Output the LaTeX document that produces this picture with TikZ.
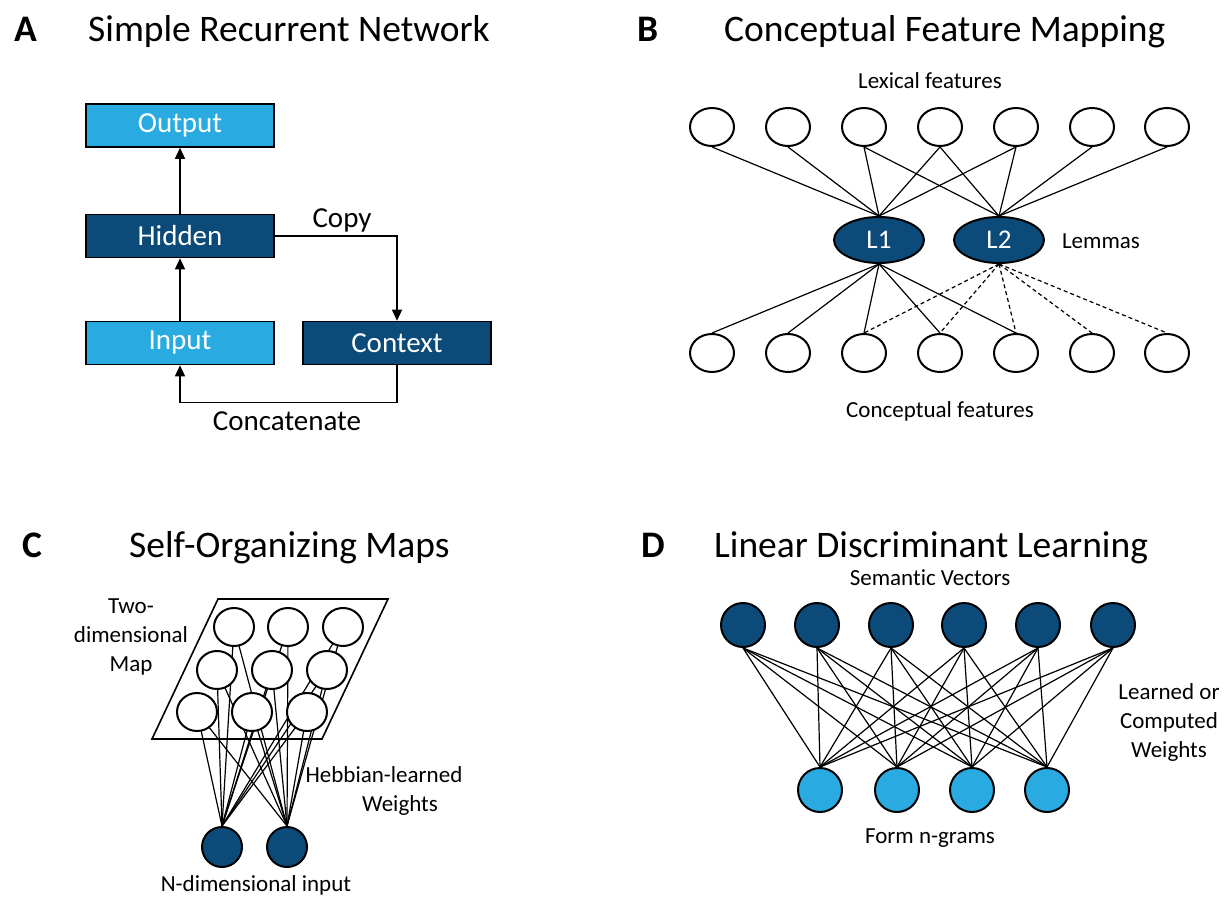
\documentclass[tikz,border=0pt]{standalone}
\usepackage{fontspec}
\setmainfont{Carlito}[Ligatures={NoCommon}]
\usetikzlibrary{shapes.geometric,arrows.meta}
\definecolor{lightblue}{RGB}{41,171,226}
\definecolor{darkblue}{RGB}{12,74,122}
\pgfdeclarelayer{bg}
\pgfsetlayers{bg,main}
\begin{document}
\begin{tikzpicture}[x=1pt,y=-1pt,
  ttl/.style={font=\fontsize{37.5}{40}\selectfont, anchor=base west, inner sep=0pt},
  letter/.style={font=\bfseries\fontsize{37.5}{40}\selectfont, anchor=base west, inner sep=0pt},
  lbl/.style={font=\fontsize{23}{29}\selectfont, inner sep=0pt, align=center},
  albl/.style={font=\fontsize{29}{32}\selectfont, inner sep=0pt, anchor=base},
  box/.style={draw=black, line width=1.6pt, minimum width=188pt, minimum height=43pt, inner sep=0pt, text=white, font=\fontsize{29}{32}\selectfont},
  arr/.style={line width=1.3pt, -{Triangle[length=11pt,width=10pt]}},
  wnode/.style={ellipse, draw, line width=2pt, fill=white, minimum width=44pt, minimum height=38pt, inner sep=0pt},
  lemma/.style={ellipse, draw, line width=2pt, fill=darkblue, minimum width=90pt, minimum height=46pt, inner sep=0pt, text=white, font=\fontsize{27}{30}\selectfont},
  conn/.style={line width=1.2pt},
  dconn/.style={line width=1.2pt, dash pattern=on 4pt off 3pt},
  mnode/.style={ellipse, draw, line width=2pt, fill=white, minimum width=40pt, minimum height=38pt, inner sep=0pt},
  inode/.style={circle, draw, line width=2pt, fill=darkblue, minimum size=40pt, inner sep=0pt},
  dnode/.style={circle, draw, line width=2pt, fill=darkblue, minimum size=44pt, inner sep=0pt},
  lnode/.style={circle, draw, line width=2pt, fill=lightblue, minimum size=44pt, inner sep=0pt},
]
\useasboundingbox (0,0) rectangle (1225,901);

% ---------- titles ----------
\node[letter] (tA) at (14,42) {A};
\node[ttl] (tAt) at (88,42) {Simple Recurrent Network};
\node[letter] (tB) at (637,42) {B};
\node[ttl] (tBt) at (724,42) {Conceptual Feature Mapping};
\node[letter] (tC) at (22,557) {C};
\node[ttl] (tCt) at (129,557) {Self-Organizing Maps};
\node[letter] (tD) at (641,557) {D};
\node[ttl] (tDt) at (714,557) {Linear Discriminant Learning};

% ---------- Panel A ----------
\node[box, fill=lightblue] (out) at (180,125.5) {Output};
\node[box, fill=darkblue] (hid) at (180,236) {Hidden};
\node[box, fill=lightblue] (inp) at (180,343) {Input};
\node[box, fill=darkblue] (ctx) at (397,343) {Context};
\draw[arr] (hid) -- (out);
\draw[arr] (inp) -- (hid);
\draw[arr] (hid.east) -| (ctx.north);
\draw[arr] (ctx.south) -- ++(0,37) -| (inp.south);
\node[albl] (copy) at (342,228) {Copy};
\node[albl] (concat) at (287,430) {Concatenate};

% ---------- Panel B ----------
\foreach \i/\x in {1/712,2/788,3/864,4/940,5/1016,6/1092,7/1167}{
  \node[wnode] (T\i) at (\x,127) {};
  \node[wnode] (B\i) at (\x,353) {};
}
\node[lemma] (L1) at (879,240) {L1};
\node[lemma] (L2) at (999,240) {L2};
\foreach \i in {1,2,3,4,5}{\draw[conn] (T\i.south) -- (L1.north);}
\foreach \i in {3,4,5,6,7}{\draw[conn] (T\i.south) -- (L2.north);}
\foreach \i in {1,2,3,4,5}{\draw[conn] (L1.south) -- (B\i.north);}
\foreach \i in {3,4,5,6,7}{\draw[dconn] (L2.south) -- (B\i.north);}
\node[lbl] (lex) at (930,81) {Lexical features};
\node[lbl] (lem) at (1101,241) {Lemmas};
\node[lbl] (conc) at (940,411) {Conceptual features};

% ---------- Panel C ----------
\draw[line width=1.6pt] (218,599) -- (388,599) -- (322,739) -- (152,739) -- cycle;
\node[mnode] (m11) at (234,627) {};
\node[mnode] (m12) at (288,627) {};
\node[mnode] (m13) at (343,627) {};
\node[mnode] (m21) at (217,670) {};
\node[mnode] (m22) at (272,670) {};
\node[mnode] (m23) at (327,670) {};
\node[mnode] (m31) at (197,712) {};
\node[mnode] (m32) at (252,712) {};
\node[mnode] (m33) at (307,712) {};
\node[inode] (i1) at (222,847) {};
\node[inode] (i2) at (287,847) {};
\begin{pgfonlayer}{bg}
\foreach \m in {m11,m12,m13,m21,m22,m23,m31,m32,m33}{
  \draw[conn] (i1.north) -- (\m.center);
  \draw[conn] (i2.north) -- (\m.center);
}
\end{pgfonlayer}
\node[lbl] (twod) at (131,637) {Two-\\dimensional\\Map};
\node[lbl] (hebb1) at (384,775) {Hebbian-learned};
\node[lbl] (hebb2) at (400,805) {Weights};
\node[lbl] (ndim) at (256,885) {N-dimensional input};

% ---------- Panel D ----------
\foreach \i/\x in {1/743,2/817,3/891,4/964,5/1038,6/1113}{
  \node[dnode] (s\i) at (\x,625) {};
}
\foreach \j/\x in {1/820,2/897,3/972,4/1047}{
  \node[lnode] (f\j) at (\x,790) {};
}
\foreach \i in {1,...,6}{
  \foreach \j in {1,...,4}{
    \draw[conn] (s\i.south) -- (f\j.north);
  }
}
\node[lbl] (sem) at (930,578) {Semantic Vectors};
\node[lbl] (form) at (930,838) {Form n-grams};
\node[lbl] (lw) at (1169,722) {Learned or\\Computed\\Weights};
\end{tikzpicture}
\end{document}
